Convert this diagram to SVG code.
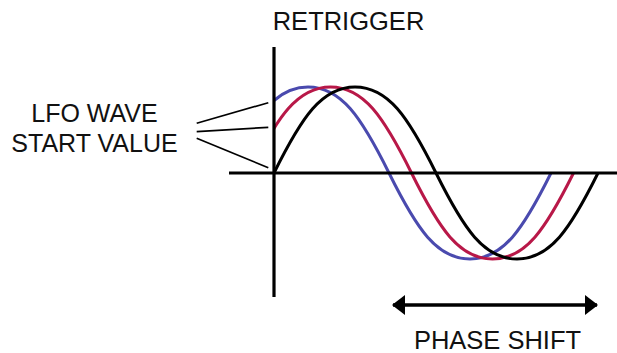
<svg xmlns="http://www.w3.org/2000/svg" width="617" height="353" viewBox="0 0 617 353">
  <style>
    .lbl { font-family: "Liberation Sans", Arial, sans-serif; font-size: 25px; fill: #111; text-anchor: middle; }
    .wave { fill: none; stroke-width: 3; stroke-linecap: butt; }
    .axis { stroke: #000; stroke-width: 3.2; fill: none; }
    .ptr { stroke: #000; stroke-width: 1.7; fill: none; }
  </style>
  <defs>
    <clipPath id="right">
      <rect x="274" y="0" width="343" height="353"/>
    </clipPath>
    <marker id="ah" viewBox="0 0 13 20" refX="12" refY="10" markerWidth="13" markerHeight="20" markerUnits="userSpaceOnUse" orient="auto-start-reverse">
      <path d="M0,0 L13,10 L0,20 Z" fill="#000"/>
    </marker>
  </defs>
  <rect width="617" height="353" fill="#fff"/>

  <g id="waves">
    <path id="wave-blue" class="wave" stroke="#4A4AAE" clip-path="url(#right)" d="M227,173 c28,-56.5 48,-86 81,-86 c33,0 53,29.5 81,86 c28,56.5 48,86 81,86 c33,0 53,-29.5 81,-86"/>
    <path id="wave-red" class="wave" stroke="#B81848" clip-path="url(#right)" d="M249.5,173 c28,-56.5 48,-86 81,-86 c33,0 53,29.5 81,86 c28,56.5 48,86 81,86 c33,0 53,-29.5 81,-86"/>
    <path id="wave-black" class="wave" stroke="#000" d="M274,173 c28,-56.5 48,-86 81,-86 c33,0 53,29.5 81,86 c28,56.5 48,86 81,86 c33,0 53,-29.5 81,-86"/>
  </g>

  <g id="axes">
    <line class="axis" x1="229" y1="173" x2="617" y2="173"/>
    <line class="axis" x1="274" y1="47" x2="274" y2="297"/>
  </g>

  <g id="connectors">
    <line class="ptr" x1="196.7" y1="123.3" x2="268.3" y2="102.7"/>
    <line class="ptr" x1="196.7" y1="131.7" x2="268.3" y2="127.3"/>
    <line class="ptr" x1="196.7" y1="138.3" x2="268.3" y2="167.7"/>
    <line stroke="#000" stroke-width="3.3" x1="393" y1="305" x2="597" y2="305" marker-start="url(#ah)" marker-end="url(#ah)"/>
  </g>

  <g id="label-retrigger">
    <text class="lbl" x="348.5" y="30" style="font-size:25.5px">RETRIGGER</text>
  </g>
  <g id="label-start">
    <text class="lbl" x="94.5" y="122">LFO WAVE</text>
    <text class="lbl" x="94.5" y="152">START VALUE</text>
  </g>
  <g id="label-phase">
    <text class="lbl" x="497.5" y="349" style="font-size:25.5px">PHASE SHIFT</text>
  </g>
</svg>
